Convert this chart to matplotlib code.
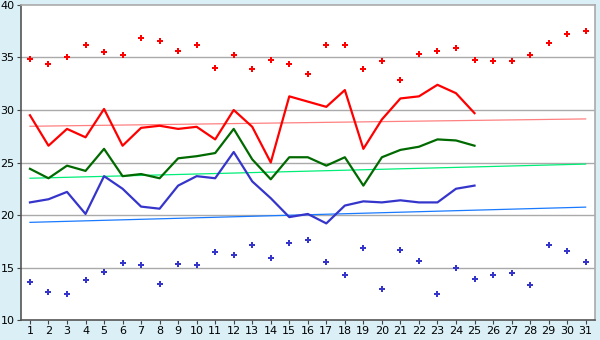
import numpy as np
import matplotlib.pyplot as plt

days = np.arange(1, 32)
line_days = np.arange(1, 26)

max_points = [34.9, 34.4, 35.0, 36.2, 35.5, 35.2, 36.9, 36.6, 35.6, 36.2,
              34.0, 35.2, 33.9, 34.8, 34.4, 33.4, 36.2, 36.2, 33.9, 34.7,
              32.9, 35.3, 35.6, 35.9, 34.8, 34.7, 34.7, 35.2, 36.4, 37.2, 37.5]
min_points = [13.6, 12.7, 12.5, 13.8, 14.6, 15.4, 15.2, 13.4, 15.3, 15.2,
              16.5, 16.2, 17.1, 15.9, 17.3, 17.6, 15.5, 14.3, 16.9, 13.0,
              16.7, 15.6, 12.5, 15.0, 13.9, 14.3, 14.5, 13.3, 17.1, 16.6, 15.5]
high_line = [29.5, 26.6, 28.2, 27.4, 30.1, 26.6, 28.3, 28.5, 28.2, 28.4,
             27.2, 30.0, 28.4, 25.0, 31.3, 30.8, 30.3, 31.9, 26.3, 29.1,
             31.1, 31.3, 32.4, 31.6, 29.7]
mean_line = [24.4, 23.5, 24.7, 24.2, 26.3, 23.7, 23.9, 23.5, 25.4, 25.6,
             25.9, 28.2, 25.3, 23.4, 25.5, 25.5, 24.7, 25.5, 22.8, 25.5,
             26.2, 26.5, 27.2, 27.1, 26.6]
low_line = [21.2, 21.5, 22.2, 20.1, 23.7, 22.5, 20.8, 20.6, 22.8, 23.7,
            23.5, 26.0, 23.2, 21.6, 19.8, 20.1, 19.2, 20.9, 21.3, 21.2,
            21.4, 21.2, 21.2, 22.5, 22.8]
high_trend = [28.45, 29.15]
mean_trend = [23.5, 24.85]
low_trend = [19.3, 20.75]

bg = '#daeff6'
fig = plt.figure(figsize=(6, 3.4), dpi=100, facecolor=bg)
ax = fig.add_axes([0.0345, 0.0588, 0.957, 0.9265])
ax.set_facecolor('white')

for y in [15, 20, 25, 30, 35]:
    ax.axhline(y, color='#aaaaaa', lw=1.0, zorder=1)

ax.plot([1, 31], high_trend, color='#ff8080', lw=0.9, zorder=2)
ax.plot([1, 31], mean_trend, color='#00ee77', lw=0.9, zorder=2)
ax.plot([1, 31], low_trend, color='#1a7aff', lw=0.9, zorder=2)

ax.plot(line_days, high_line, color='#ff0000', lw=1.6, zorder=3)
ax.plot(line_days, mean_line, color='#006a00', lw=1.6, zorder=3)
ax.plot(line_days, low_line, color='#3535cc', lw=1.6, zorder=3)

ax.scatter(days, max_points, marker='P', s=16, color='#ff0000', lw=0, zorder=4)
ax.scatter(days, min_points, marker='P', s=16, color='#3535cc', lw=0, zorder=4)

ax.set_xlim(0.5, 31.5)
ax.set_ylim(10, 40)
ax.set_xticks(days)
ax.set_yticks([10, 15, 20, 25, 30, 35, 40])
ax.tick_params(labelsize=8, length=3, color='#444444', pad=1.5)
for s in ax.spines.values():
    s.set_color('#aaaaaa')
    s.set_linewidth(1.2)
ax.spines['left'].set_color('#555555')
ax.spines['bottom'].set_color('#555555')

fig.savefig('out.png', dpi=100, facecolor=bg)
